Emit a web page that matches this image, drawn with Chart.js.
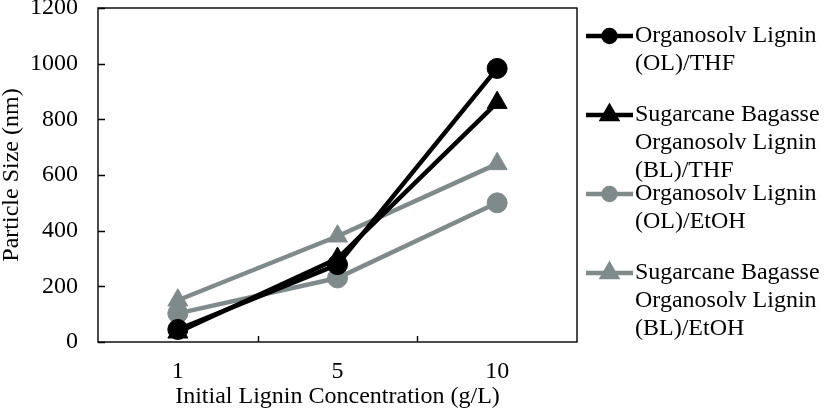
<!DOCTYPE html>
<html>
<head>
<meta charset="utf-8">
<script src="https://cdn.jsdelivr.net/npm/chart.js@4/dist/chart.umd.min.js"></script>
<style>
  html, body { margin: 0; padding: 0; background: #fff; }
  #wrap { width: 826px; height: 419px; }
</style>
</head>
<body>
<div id="wrap"><canvas id="chart" width="826" height="419"></canvas></div>
<script>
// data
const concentrations = ['1', '5', '10'];
const olThf = [45, 278, 983];
const blThf = [35, 300, 860];
const olEtoh = [103, 230, 500];
const blEtoh = [150, 380, 640];
const seriesLabels = [
  ['Organosolv Lignin', '(OL)/THF'],
  ['Sugarcane Bagasse', 'Organosolv Lignin', '(BL)/THF'],
  ['Organosolv Lignin', '(OL)/EtOH'],
  ['Sugarcane Bagasse', 'Organosolv Lignin', '(BL)/EtOH']
];
const yTicks = [0, 200, 400, 600, 800, 1000, 1200];

const BLACK = '#000000';
const GRAY = '#7f8a8a';
const FONT = "'Liberation Serif', 'Times New Roman', serif";

const mkSet = (i, data, color, style) => ({
  label: seriesLabels[i].join(' '),
  legendLines: seriesLabels[i],
  data,
  borderColor: color,
  backgroundColor: color,
  borderWidth: 4.5,
  pointStyle: style,
  pointRadius: style === 'triangle' ? 11.5 : 10,
  pointHoverRadius: style === 'triangle' ? 11.5 : 10,
  pointBorderWidth: 1,
  tension: 0,
  clip: false
});

// frame + inward tick marks
const framePlugin = {
  id: 'frame',
  beforeDatasetsDraw(chart) {
    const { ctx, chartArea: a, scales: { x, y } } = chart;
    ctx.save();
    ctx.strokeStyle = '#000';
    ctx.lineWidth = 1.4;
    ctx.strokeRect(a.left, a.top, a.right - a.left, a.bottom - a.top);
    ctx.beginPath();
    yTicks.forEach(v => {
      const py = Math.round(y.getPixelForValue(v)) + 0.5;
      ctx.moveTo(a.left, py);
      ctx.lineTo(a.left + 7, py);
    });
    for (let i = 0; i < concentrations.length - 1; i++) {
      const px = Math.round((x.getPixelForValue(i) + x.getPixelForValue(i + 1)) / 2) + 0.5;
      ctx.moveTo(px, a.bottom);
      ctx.lineTo(px, a.bottom - 6);
    }
    ctx.stroke();
    ctx.restore();
  }
};

// legend on the right, multi-line labels
const legendPlugin = {
  id: 'sideLegend',
  afterDraw(chart) {
    const { ctx } = chart;
    const x0 = 586, x1 = 633, top = 36, pitch = 79, lineGap = 28;
    ctx.save();
    ctx.font = '24px ' + FONT;
    ctx.textBaseline = 'middle';
    ctx.textAlign = 'left';
    chart.data.datasets.forEach((ds, i) => {
      const yy = top + i * pitch;
      ctx.strokeStyle = ds.borderColor;
      ctx.lineWidth = 4.5;
      ctx.beginPath();
      ctx.moveTo(x0, yy);
      ctx.lineTo(x1, yy);
      ctx.stroke();
      ctx.fillStyle = ds.backgroundColor;
      Chart.helpers.drawPoint(ctx, {
        pointStyle: ds.pointStyle,
        radius: ds.pointStyle === 'triangle' ? 8 : 6,
        borderWidth: 1,
        rotation: 0
      }, (x0 + x1) / 2, yy);
      ctx.fillStyle = '#000';
      ds.legendLines.forEach((t, k) => ctx.fillText(t, x1 + 2, yy + k * lineGap));
    });
    ctx.restore();
  }
};

new Chart(document.getElementById('chart'), {
  type: 'line',
  data: {
    labels: concentrations,
    datasets: [
      mkSet(0, olThf, BLACK, 'circle'),
      mkSet(1, blThf, BLACK, 'triangle'),
      mkSet(2, olEtoh, GRAY, 'circle'),
      mkSet(3, blEtoh, GRAY, 'triangle')
    ]
  },
  options: {
    responsive: false,
    animation: false,
    events: [],
    layout: { autoPadding: false, padding: { top: 8, right: 249, left: 0, bottom: 0 } },
    plugins: {
      legend: { display: false },
      tooltip: { enabled: false }
    },
    scales: {
      x: {
        type: 'category',
        offset: true,
        grid: { display: false, drawTicks: false },
        border: { display: false },
        ticks: { color: '#000', font: { family: FONT, size: 24 }, padding: 15, maxRotation: 0 },
        title: {
          display: true,
          text: 'Initial Lignin Concentration (g/L)',
          color: '#000',
          font: { family: FONT, size: 24 },
          padding: { top: 0, bottom: 8 }
        },
        afterFit(s) { s.height = 77; s.paddingLeft = 0; s.paddingRight = 0; }
      },
      y: {
        min: 0,
        max: 1200,
        grid: { display: false, drawTicks: false },
        border: { display: false },
        afterBuildTicks(s) { s.ticks = yTicks.map(v => ({ value: v })); },
        ticks: {
          color: '#000',
          font: { family: FONT, size: 24 },
          padding: 20,
          callback: v => String(v)
        },
        title: {
          display: true,
          text: 'Particle Size (nm)',
          color: '#000',
          font: { family: FONT, size: 24, lineHeight: 1 },
          padding: { top: 0, bottom: 0 }
        },
        afterFit(s) { s.width = 98; s.paddingTop = 0; s.paddingBottom = 0; }
      }
    }
  },
  plugins: [framePlugin, legendPlugin]
});
</script>
</body>
</html>
